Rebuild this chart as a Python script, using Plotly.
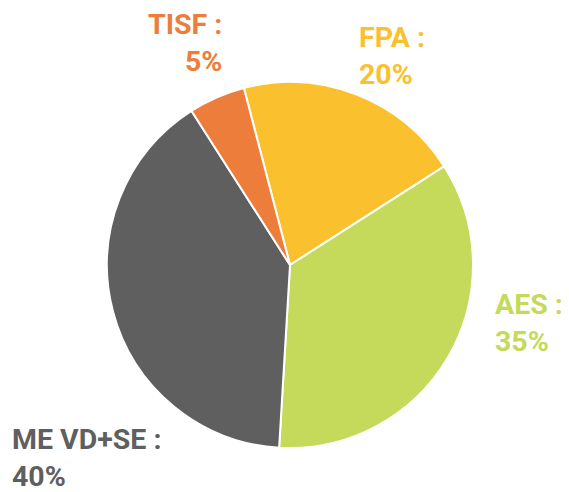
import plotly.graph_objects as go

categories = ["FPA", "AES", "ME VD+SE", "TISF"]
values = [20, 35, 40, 5]
colors = ["#FBC02D", "#C5D95B", "#5F5F5F", "#ED7D3B"]

# page body has an 8px default margin; size figure to fill the rest of the window
OFF = 8
W, H = 569 - OFF, 492 - OFF

# label placement in window pixels: x, y-top, anchor/align
label_pos = {
    "FPA": (357, 19, "left"),
    "AES": (493, 286, "left"),
    "ME VD+SE": (10, 421, "left"),
    "TISF": (224, 6, "right"),
}

cx, cy, r = 290 - OFF, 265 - OFF, 183

fig = go.Figure(go.Pie(
    labels=categories,
    values=values,
    sort=False,
    direction="clockwise",
    rotation=-14.6,
    marker=dict(colors=colors, line=dict(color="white", width=2)),
    textinfo="none",
    hoverinfo="label+percent",
    showlegend=False,
    domain=dict(x=[(cx - r) / W, (cx + r) / W], y=[(H - (cy + r)) / H, (H - (cy - r)) / H]),
))

total = sum(values)
annotations = []
for cat, val, col in zip(categories, values, colors):
    px, py, al = label_pos[cat]
    pct = round(100 * val / total)
    annotations.append(dict(
        text=f"<b>{cat} :<br>{pct}%</b>",
        x=(px - OFF) / W, y=1 - (py - OFF) / H, xref="paper", yref="paper",
        xanchor=al, yanchor="top", align=al, showarrow=False,
        font=dict(family="Roboto", size=28.5, color=col),
    ))

fig.update_layout(
    width=W, height=H,
    margin=dict(l=0, r=0, t=0, b=0),
    paper_bgcolor="white", plot_bgcolor="white",
    annotations=annotations,
)

fig.write_html("out.html")
